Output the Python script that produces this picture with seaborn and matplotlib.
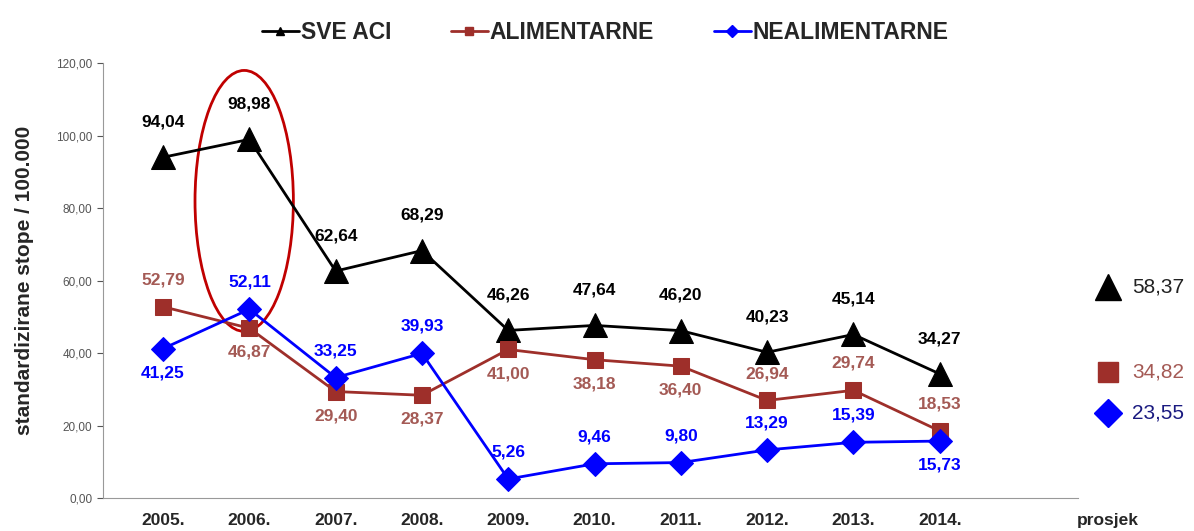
import pandas as pd
import numpy as np
import matplotlib.pyplot as plt
import seaborn as sns
from matplotlib.lines import Line2D
from matplotlib.patches import Ellipse
from matplotlib.ticker import FuncFormatter

sns.set_style("white")
plt.rcParams['font.family'] = ['Liberation Sans', 'DejaVu Sans']

# =========================
# podaci
godine = ["2005.", "2006.", "2007.", "2008.", "2009.", "2010.", "2011.", "2012.", "2013.", "2014."]
sve_aci = [94.04, 98.98, 62.64, 68.29, 46.26, 47.64, 46.20, 40.23, 45.14, 34.27]
alimentarne = [52.79, 46.87, 29.40, 28.37, 41.00, 38.18, 36.40, 26.94, 29.74, 18.53]
nealimentarne = [41.25, 52.11, 33.25, 39.93, 5.26, 9.46, 9.80, 13.29, 15.39, 15.73]
prosjek = {"SVE ACI": 58.37, "ALIMENTARNE": 34.82, "NEALIMENTARNE": 23.55}

# pozicija oznake: 1 = iznad, -1 = ispod
pos_ali = [1, -1, -1, -1, -1, -1, -1, 1, 1, 1]
pos_neali = [-1, 1, 1, 1, 1, 1, 1, 1, 1, -1]

crna = "black"
smeda = "#9e2f2a"
smeda_txt = "#a45a55"
plava = "#0000ff"


def fmt(v):
    return f"{v:.2f}".replace(".", ",")


fig = plt.figure(figsize=(11.94, 5.31), dpi=100)
ax = fig.add_axes([0.086, 0.062, 0.86, 0.819])

x = np.arange(len(godine))
serije = [
    ("SVE ACI", sve_aci, crna, "^", 17),
    ("ALIMENTARNE", alimentarne, smeda, "s", 12),
    ("NEALIMENTARNE", nealimentarne, plava, "D", 12),
]
for ime, vals, boja, mk, ms in serije:
    sns.lineplot(x=x, y=vals, ax=ax, color=boja, marker=mk, markersize=ms,
                 markeredgecolor=boja, linewidth=2, legend=False)

# oznake vrijednosti
for i, v in enumerate(sve_aci):
    ax.annotate(fmt(v), (i, v), xytext=(0, 20), textcoords="offset points",
                ha="center", va="bottom", fontsize=12.5, fontweight="bold", color=crna)
for i, v in enumerate(alimentarne):
    off = 14 if pos_ali[i] > 0 else -12
    ax.annotate(fmt(v), (i, v), xytext=(0, off), textcoords="offset points",
                ha="center", va="bottom" if off > 0 else "top",
                fontsize=12.5, fontweight="bold", color=smeda_txt)
for i, v in enumerate(nealimentarne):
    off = 14 if pos_neali[i] > 0 else -12
    ax.annotate(fmt(v), (i, v), xytext=(0, off), textcoords="offset points",
                ha="center", va="bottom" if off > 0 else "top",
                fontsize=12.5, fontweight="bold", color=plava)

# prosjek
xp = 10.95
for ime, vals, boja, mk, ms in serije:
    v = prosjek[ime]
    ax.plot([xp], [v], marker=mk, markersize=ms + 2, color=boja, clip_on=False)
    ax.text(xp + 0.28, v, fmt(v), ha="left", va="center", fontsize=15,
            color=smeda_txt if boja == smeda else ("#1a1a80" if boja == plava else "#222222"))

# crvena elipsa oko 2006.
ax.add_patch(Ellipse((0.94, 82), 1.14, 72, fill=False, edgecolor="#c00000", linewidth=2))

ax.set_xlim(-0.7, 11.2)
ax.set_ylim(0, 120)
ax.set_yticks(np.arange(0, 121, 20))
ax.yaxis.set_major_formatter(FuncFormatter(lambda v, p: fmt(v)))
ax.set_xticks(list(x) + [xp])
ax.set_xticklabels(godine + ["prosjek"], fontsize=12.5, fontweight="bold")
ax.tick_params(axis="x", length=0, pad=11)
ax.tick_params(axis="y", length=4, labelsize=8.5, colors="#555555", left=True)
ax.set_ylabel("standardizirane stope / 100.000", fontsize=15, fontweight="bold", labelpad=16)

for s in ["top", "right"]:
    ax.spines[s].set_visible(False)
ax.spines["left"].set_color("#999999")
ax.spines["bottom"].set_color("#999999")
ax.spines["bottom"].set_bounds(-0.7, 10.6)

handles = [Line2D([0], [0], color=b, marker=m, markersize=6, linewidth=2) for _, _, b, m, _ in serije]
fig.legend(handles, [s[0] for s in serije], loc="upper center", bbox_to_anchor=(0.507, 1.0),
           ncol=3, frameon=False, prop={"size": 16.5, "weight": "bold"},
           handlelength=1.6, handletextpad=0.1, columnspacing=2.6)

fig.savefig("out.png", dpi=100)
